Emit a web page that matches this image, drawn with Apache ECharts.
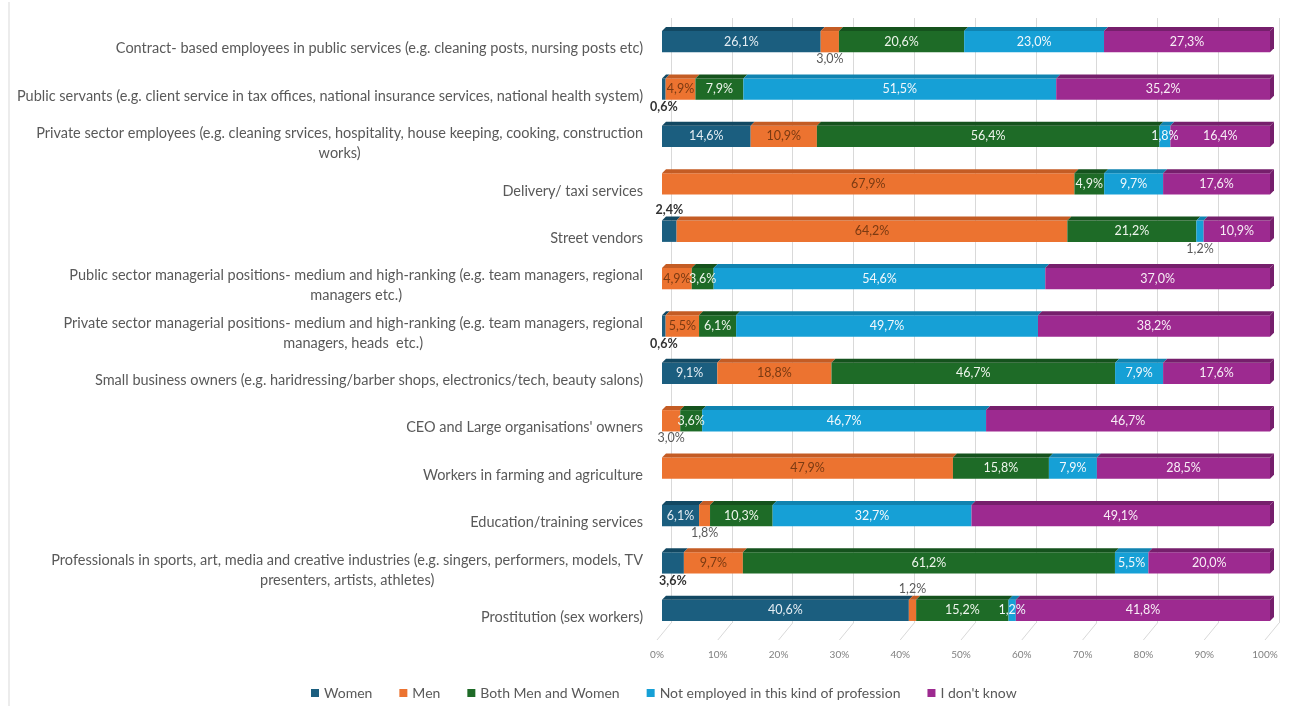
<!DOCTYPE html>
<html style="height: 100%">
<head>
    <meta charset="utf-8">
</head>
<body style="height: 100%; margin: 0">
<div id="container" style="width: 1295px; height: 711px"></div>
<script type="text/javascript" src="https://cdn.jsdelivr.net/npm/echarts@6/dist/echarts.min.js"></script>
<script type="text/javascript">
var categories = [
    'Contract- based employees in public services (e.g. cleaning posts, nursing posts etc)',
    'Public servants (e.g. client service in tax offices, national insurance services, national health system)',
    'Private sector employees (e.g. cleaning srvices, hospitality, house keeping, cooking, construction\nworks)',
    'Delivery/ taxi services',
    'Street vendors',
    'Public sector managerial positions- medium and high-ranking (e.g. team managers, regional\nmanagers etc.)',
    'Private sector managerial positions- medium and high-ranking (e.g. team managers, regional\nmanagers, heads  etc.)',
    'Small business owners (e.g. haridressing/barber shops, electronics/tech, beauty salons)',
    "CEO and Large organisations' owners",
    'Workers in farming and agriculture',
    'Education/training services',
    'Professionals in sports, art, media and creative industries (e.g. singers, performers, models, TV\npresenters, artists, athletes)',
    'Prostitution (sex workers)'
];
var seriesNames = ['Women', 'Men', 'Both Men and Women', 'Not employed in this kind of profession', "I don't know"];
var women       = [26.1, 0.6, 14.6, 0,    2.4,  0,    0.6,  9.1,  0,    0,    6.1,  3.6,  40.6];
var men         = [3.0,  4.9, 10.9, 67.9, 64.2, 4.9,  5.5,  18.8, 3.0,  47.9, 1.8,  9.7,  1.2];
var both        = [20.6, 7.9, 56.4, 4.9,  21.2, 3.6,  6.1,  46.7, 3.6,  15.8, 10.3, 61.2, 15.2];
var notEmployed = [23.0, 51.5, 1.8, 9.7,  1.2,  54.6, 49.7, 7.9,  46.7, 7.9,  32.7, 5.5,  1.2];
var dontKnow    = [27.3, 35.2, 16.4, 17.6, 10.9, 37.0, 38.2, 17.6, 46.7, 28.5, 49.1, 20.0, 41.8];
var xTicks = [0, 10, 20, 30, 40, 50, 60, 70, 80, 90, 100];

var colors      = ['#1b5e7f', '#ec7330', '#1e6b27', '#16a0d6', '#9d2a90'];
var topColors   = ['#124862', '#c45c24', '#15521d', '#1083b0', '#761f6c'];
var labelColors = ['#e4edf3', '#7a3a12', '#eef5ec', '#f2f8fc', '#f8eef6'];
// small values drawn outside the bar
var outside = {
    '0-1': 'bottom', '0-4': 'top', '0-6': 'bottom', '0-11': 'bottom',
    '1-0': 'bottom', '1-8': 'bottom', '1-10': 'bottom', '1-12': 'top',
    '3-4': 'bottom'
};

var values = [women, men, both, notEmployed, dontKnow];

// 100% stacked: each row normalised by its total
function segments(s) {
    return categories.map(function (c, row) {
        var total = 0, before = 0;
        values.forEach(function (v, k) {
            total += v[row];
            if (k < s) before += v[row];
        });
        return [row, before / total * 100, (before + values[s][row]) / total * 100, values[s][row]];
    });
}

function fmt(v) {
    return v.toFixed(1).replace('.', ',') + '%';
}

function renderSeg(s) {
    return function (params, api) {
        var row = api.value(0), v = api.value(3);
        if (!v) return;
        var p0 = api.coord([api.value(1), row]);
        var p1 = api.coord([api.value(2), row]);
        var band = api.size([0, 1])[1];
        var h = band * 0.45, d = 4;
        var x0 = p0[0], x1 = p1[0], top = p0[1] - h / 2, bot = p0[1] + h / 2;
        var children = [
            {type: 'rect', shape: {x: x0, y: top, width: x1 - x0, height: h}, style: {fill: colors[s]}},
            {type: 'polygon', shape: {points: [[x0, top], [x1, top], [x1 + d, top - d], [x0 + d, top - d]]}, style: {fill: topColors[s]}}
        ];
        if (s === 4) {
            children.push({type: 'polygon', shape: {points: [[x1, top], [x1 + d, top - d], [x1 + d, bot - d], [x1, bot]]}, style: {fill: topColors[s]}});
        }
        var pos = outside[s + '-' + row] || 'inside';
        var lx = (x0 + x1) / 2, ly = (top + bot) / 2, fill = labelColors[s], weight = 'normal';
        if (pos === 'top') { ly = top - d - 7; }
        if (pos === 'bottom') { ly = bot + 7; }
        if (pos !== 'inside') {
            fill = s === 0 ? '#333333' : '#595959';
            weight = s === 0 ? 'bold' : 'normal';
        }
        children.push({
            type: 'text', z2: 10,
            style: {
                text: fmt(v), x: lx, y: ly, align: 'center', verticalAlign: 'middle',
                fill: fill, fontSize: 12.5, fontFamily: 'Lato', fontWeight: weight
            }
        });
        return {type: 'group', children: children};
    };
}

var series = seriesNames.map(function (name, s) {
    return {
        name: name,
        type: 'custom',
        xAxisIndex: 0,
        yAxisIndex: 0,
        itemStyle: {color: colors[s]},
        encode: {x: [1, 2], y: 0},
        renderItem: renderSeg(s),
        data: segments(s)
    };
});

// slanted floor lines of the 3D look
series.push({
    type: 'custom',
    xAxisIndex: 1,
    yAxisIndex: 1,
    silent: true,
    encode: {x: 0},
    data: xTicks.map(function (t) { return [t, 0]; }),
    renderItem: function (params, api) {
        var p = api.coord([api.value(0), 0]);
        return {type: 'line', shape: {x1: p[0], y1: p[1], x2: p[0] - 14, y2: p[1] + 17}, style: {stroke: '#d9d9d9', lineWidth: 1}};
    }
});

var myChart = echarts.init(document.getElementById('container'));
var option = {
    backgroundColor: '#ffffff',
    color: colors,
    textStyle: {fontFamily: 'Lato'},
    legend: {
        data: seriesNames,
        left: 306,
        top: 681,
        icon: 'rect',
        itemWidth: 8,
        itemHeight: 8,
        itemGap: 27,
        textStyle: {color: '#595959', fontSize: 14, fontFamily: 'Lato'}
    },
    grid: [
        {left: 662, right: 25, top: 18, bottom: 77},
        {left: 671, right: 16, top: 18, bottom: 88}
    ],
    xAxis: [{
        type: 'value', gridIndex: 0, min: 0, max: 100, interval: 10,
        axisLine: {show: false}, axisTick: {show: false}, splitLine: {show: false},
        axisLabel: {formatter: '{value}%', color: '#808080', fontSize: 10, margin: 16, padding: [0, 10, 0, 0]}
    }, {
        type: 'value', gridIndex: 1, min: 0, max: 100, interval: 10,
        axisLine: {show: false}, axisTick: {show: false}, axisLabel: {show: false},
        splitLine: {show: true, lineStyle: {color: '#d9d9d9', width: 1}}
    }],
    yAxis: [{
        type: 'category', gridIndex: 0, inverse: true, data: categories,
        axisLine: {show: false}, axisTick: {show: false}, splitLine: {show: false},
        axisLabel: {
            margin: 19,
            color: '#595959',
            fontSize: 14.5,
            padding: [14, 0, 0, 0],
            formatter: function (v) {
                var lines = v.split('\n');
                if (lines.length === 1) return '{a|' + v + '}';
                return '{a|' + lines[0] + '}\n{c|' + lines[1] + '}';
            },
            rich: {
                a: {fontSize: 14.5, color: '#595959', fontFamily: 'Lato', lineHeight: 20, align: 'right'},
                c: {fontSize: 14.5, color: '#595959', fontFamily: 'Lato', lineHeight: 20, align: 'center'}
            }
        }
    }, {
        type: 'value', gridIndex: 1, min: 0, max: 1, show: false
    }],
    graphic: [{
        type: 'line', shape: {x1: 9, y1: 2, x2: 9, y2: 706},
        style: {stroke: '#d9d9d9', lineWidth: 1}, silent: true
    }],
    series: series
};
myChart.setOption(option);
</script>
</body>
</html>
